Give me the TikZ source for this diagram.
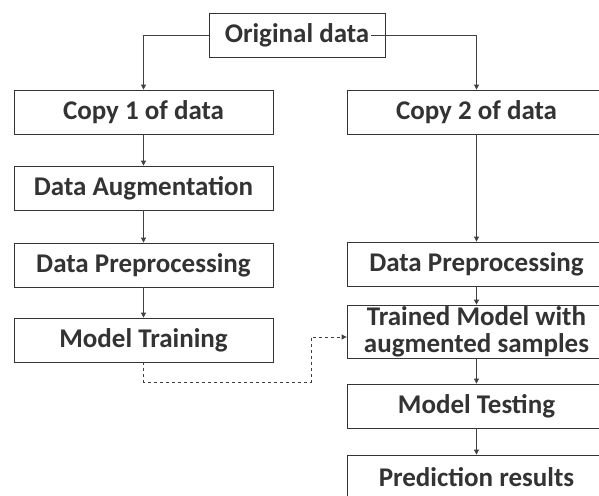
\documentclass[tikz,border=0pt]{standalone}
\usepackage{fontspec}
\setmainfont{Carlito}
\usetikzlibrary{positioning, arrows.meta, shadows}

\begin{document}
\begin{tikzpicture}[x=1pt, y=-1pt,
                    box/.style={draw=black!80, fill=white, line width=0.8pt,
                      minimum width=259pt, minimum height=44pt, inner sep=0pt,
                      text=black!80, font=\fontsize{27}{27}\selectfont\bfseries,
                      drop shadow={shadow xshift=1.2pt, shadow yshift=-1.2pt, opacity=0.25}},
                    arr/.style={-{Triangle[length=5pt,width=5pt]}, draw=black!75, line width=0.8pt}]
\useasboundingbox (0,0) rectangle (599,495);
\clip (0,0) rectangle (599,495);
\node[box, minimum width=176pt] (orig) at (297,35) {Original data};
\node[box] (copyA) at (143.5,112) {Copy 1 of data};
\node[box] (augA) at (143.5,188) {Data Augmentation};
\node[box] (preA) at (143.5,265) {Data Preprocessing};
\node[box] (trainA) at (143.5,340) {Model Training};
\node[box] (copyB) at (476.5,112) {Copy 2 of data};
\node[box] (preB) at (476.5,264) {Data Preprocessing};
\node[box, minimum height=53pt, align=center] (trainedB) at (476.5,331.5)
  {Trained Model with\\augmented samples};
\node[box] (testB) at (476.5,406) {Model Testing};
\node[box] (predB) at (476.5,477) {Prediction results};
\coordinate (origR) at ([xshift=-14pt]orig.east);
\coordinate (dashA) at (311,382);
\coordinate (dashB) at (311,337);
\draw[arr] (orig.west) -| (copyA.north);
\draw[arr] (origR) -| (copyB.north);
\draw[arr] (copyA) -- (augA);
\draw[arr] (augA) -- (preA);
\draw[arr] (preA) -- (trainA);
\draw[arr] (copyB) -- (preB);
\draw[arr] (preB) -- (trainedB);
\draw[arr] (trainedB) -- (testB);
\draw[arr] (testB) -- (predB);
\draw[arr, dashed] (trainA.south) |- (dashA) -- (dashB) -- (dashB -| trainedB.west);
\end{tikzpicture}
\end{document}
